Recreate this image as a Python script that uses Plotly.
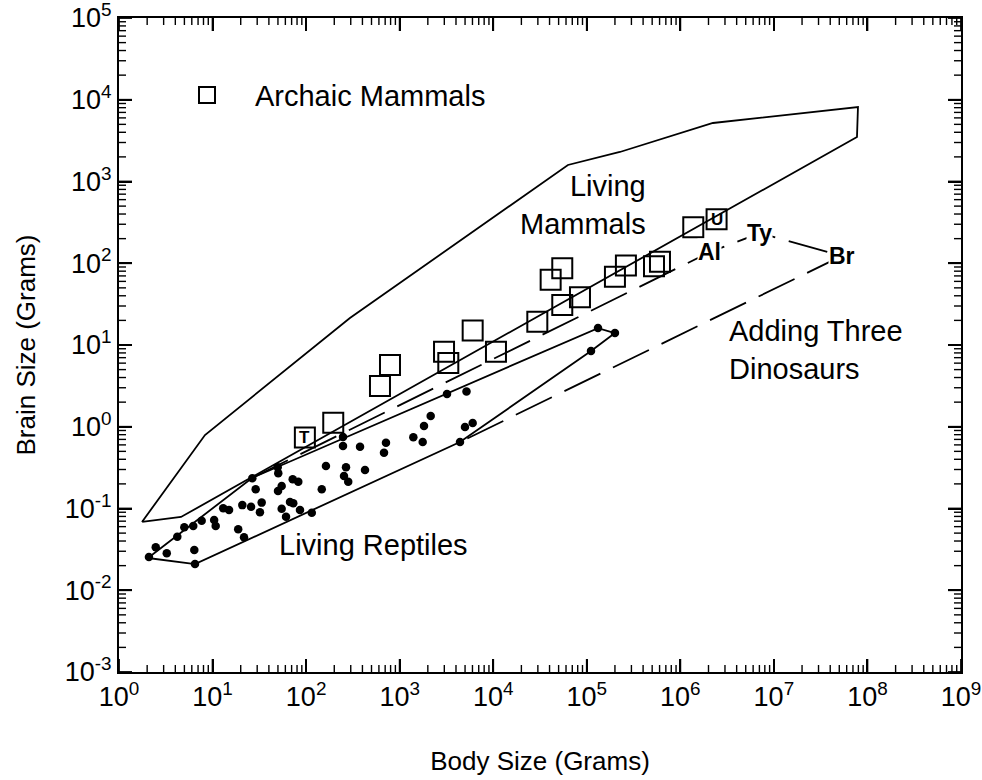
import math
import plotly.graph_objects as go

FONT = "Liberation Sans, Arial, sans-serif"

# ---------------- data ----------------
# Archaic mammals (open squares): body size (g), brain size (g)
archaic_body = [97, 195, 616, 788, 2980, 3310, 6030, 10700, 29600, 41100,
                54700, 54700, 84600, 200000, 262000, 523000, 606000,
                1375000, 2440000]
archaic_brain = [0.74, 1.12, 3.15, 5.69, 8.28, 6.02, 15.0, 8.28, 19.3, 63,
                 86.7, 30.8, 38.3, 68.4, 93.8, 91.8, 104.5, 275, 345]
archaic_tags = ["T", "U"]  # first and last square

# Living reptiles (filled dots)
reptile_body = [2.09, 2.47, 3.24, 6.38, 6.49, 4.20, 4.99, 6.22, 7.65, 10.4,
                10.8, 13.0, 15.0, 18.8, 21.7, 20.8, 25.8, 33.5, 32.1, 26.6,
                28.9, 49.7, 50.4, 54.8, 54.8, 50.1, 71.9, 82.5, 72.9, 86.0,
                61.0, 115, 147, 163, 248, 248, 267, 254, 282, 377,
                426, 714, 680, 1400, 1762, 1820, 2146, 3206, 5180, 4990,
                6030, 4413, 111000, 131800, 200000, 67.3]
reptile_brain = [0.0255, 0.0335, 0.0283, 0.0310, 0.0209, 0.0452, 0.0589, 0.0611, 0.0710, 0.0723,
                 0.0611, 0.1005, 0.0959, 0.0557, 0.0445, 0.110, 0.105, 0.118, 0.0898, 0.234,
                 0.172, 0.319, 0.270, 0.188, 0.0995, 0.164, 0.228, 0.213, 0.116, 0.0959,
                 0.0794, 0.0889, 0.172, 0.331, 0.750, 0.581, 0.319, 0.250, 0.213, 0.570,
                 0.296, 0.638, 0.482, 0.743, 0.650, 1.02, 1.35, 2.52, 2.70, 0.993,
                 1.11, 0.650, 8.45, 16.1, 14.0, 0.120]

# Living mammals envelope
mammal_env_body = [1.76, 8.3, 294, 62900, 226000, 2230000, 79200000, 77300000, 4.6, 1.76]
mammal_env_brain = [0.0684, 0.792, 21.4, 1592, 2296, 5196, 8150, 3500, 0.0787, 0.0684]

# Living reptiles envelope
reptile_env_body = [2.04, 26.4, 131800, 200000, 111000, 4413, 6.49, 2.04]
reptile_env_brain = [0.0248, 0.236, 16.1, 14.0, 8.45, 0.650, 0.0209, 0.0248]

# Three dinosaurs
dino_names = ["Al", "Ty", "Br"]
dino_body = [2.07e6, 7.1e6, 5.34e7]
dino_brain = [137, 234, 123]

# Envelope after adding the dinosaurs (dashed): reptile vertex -> Al -> Ty -> Br -> reptile vertex
ext_body = [26.4] + dino_body + [4413]
ext_brain = [0.236] + dino_brain + [0.650]

x_tick_exp = list(range(0, 10))
y_tick_exp = list(range(-3, 6))

# ---------------- figure ----------------
fig = go.Figure()

fig.add_trace(go.Scatter(x=mammal_env_body, y=mammal_env_brain, mode="lines",
                         line=dict(color="black", width=1.8), showlegend=False,
                         hoverinfo="skip"))
fig.add_trace(go.Scatter(x=reptile_env_body, y=reptile_env_brain, mode="lines",
                         line=dict(color="black", width=1.8), showlegend=False,
                         hoverinfo="skip"))
fig.add_trace(go.Scatter(x=ext_body, y=ext_brain, mode="lines",
                         line=dict(color="black", width=1.8, dash="40px,14px"),
                         showlegend=False, hoverinfo="skip"))
fig.add_trace(go.Scatter(x=reptile_body, y=reptile_brain, mode="markers",
                         marker=dict(symbol="circle", size=8.5, color="black"),
                         showlegend=False, name="Living Reptiles"))
fig.add_trace(go.Scatter(x=archaic_body, y=archaic_brain, mode="markers",
                         marker=dict(symbol="square-open", size=20, color="black",
                                     line=dict(width=2, color="black")),
                         name="Archaic Mammals", showlegend=True))

annotations = []
for n, bx, by in zip(dino_names, dino_body, dino_brain):
    annotations.append(dict(x=math.log10(bx), y=math.log10(by), xref="x", yref="y",
                            text="<b>%s</b>" % n, showarrow=False,
                            font=dict(family=FONT, size=23, color="black"),
                            bgcolor="white", borderpad=0))
for tag, idx in zip(archaic_tags, [0, len(archaic_body) - 1]):
    annotations.append(dict(x=math.log10(archaic_body[idx]), y=math.log10(archaic_brain[idx]),
                            xref="x", yref="y", text="<b>%s</b>" % tag, showarrow=False,
                            font=dict(family=FONT, size=17, color="black")))
annotations += [
    dict(x=0.6283, y=0.7148, xref="paper", yref="paper", text="Living<br>Mammals",
         xanchor="right", yanchor="middle", align="right", showarrow=False,
         font=dict(family=FONT, size=29, color="black")),
    dict(x=0.7221, y=0.4916, xref="paper", yref="paper", text="Adding Three<br>Dinosaurs",
         xanchor="left", yanchor="middle", align="left", showarrow=False,
         font=dict(family=FONT, size=29, color="black")),
    dict(x=0.3017, y=0.1942, xref="paper", yref="paper", text="Living Reptiles",
         xanchor="center", yanchor="middle", showarrow=False,
         font=dict(family=FONT, size=29, color="black")),
]

major_x = [10 ** e for e in x_tick_exp]
major_y = [10.0 ** e for e in y_tick_exp]
minor_x = [m * 10 ** k for k in range(0, 9) for m in range(2, 10)]
minor_y = [m * 10.0 ** k for k in range(-3, 5) for m in range(2, 10)]

# ---- inward tick marks on all four sides (axis decoration, from tick values) ----
X_RANGE = (0, 9)
Y_RANGE = (-3, 5)
PLOT_W = 982 - 119 - 21
PLOT_H = 780 - 18 - 108
shapes = []


def add_x_ticks(vals, length_px, width):
    h = length_px / PLOT_H
    for v in vals:
        p = (math.log10(v) - X_RANGE[0]) / (X_RANGE[1] - X_RANGE[0])
        for y0, y1 in ((0, h), (1, 1 - h)):
            shapes.append(dict(type="line", xref="paper", yref="paper",
                               x0=p, x1=p, y0=y0, y1=y1, layer="above",
                               line=dict(color="black", width=width)))


def add_y_ticks(vals, length_px, width):
    w = length_px / PLOT_W
    for v in vals:
        p = (math.log10(v) - Y_RANGE[0]) / (Y_RANGE[1] - Y_RANGE[0])
        for x0, x1 in ((0, w), (1, 1 - w)):
            shapes.append(dict(type="line", xref="paper", yref="paper",
                               x0=x0, x1=x1, y0=p, y1=p, layer="above",
                               line=dict(color="black", width=width)))


add_x_ticks(major_x, 13, 1.8)
add_x_ticks(minor_x, 7, 1.4)
add_y_ticks(major_y, 13, 1.8)
add_y_ticks(minor_y, 7, 1.4)

fig.update_layout(
    xaxis=dict(type="log", range=list(X_RANGE), tickmode="array", tickvals=major_x,
               ticktext=["10<sup>%d</sup>" % e for e in x_tick_exp],
               ticks="inside", ticklen=13, tickwidth=1.8, tickcolor="black",
               showline=True, linewidth=2, linecolor="black", mirror="allticks",
               showgrid=False, zeroline=False, automargin=False,
               ticklabeloverflow="allow",
               tickfont=dict(family=FONT, size=27, color="black"),
               title=dict(text="Body Size (Grams)", standoff=40,
                          font=dict(family=FONT, size=26, color="black"))),
    yaxis=dict(type="log", range=list(Y_RANGE), tickmode="array", tickvals=major_y,
               ticktext=["10<sup>%d</sup>" % e for e in y_tick_exp],
               ticks="inside", ticklen=13, tickwidth=1.8, tickcolor="black",
               showline=True, linewidth=2, linecolor="black", mirror="allticks",
               showgrid=False, zeroline=False, automargin=False,
               ticklabeloverflow="allow",
               tickfont=dict(family=FONT, size=27, color="black"),
               title=dict(text="Brain Size (Grams)", standoff=22,
                          font=dict(family=FONT, size=26, color="black"))),
    width=982, height=780,
    margin=dict(l=119, r=21, t=18, b=108),
    paper_bgcolor="white", plot_bgcolor="white",
    font=dict(family=FONT, color="black"),
    annotations=annotations,
    shapes=shapes,
    showlegend=True,
    legend=dict(x=0.0475, y=0.882, xanchor="left", yanchor="middle",
                xref="paper", yref="paper", bgcolor="rgba(0,0,0,0)", borderwidth=0,
                itemwidth=86, itemsizing="trace",
                font=dict(family=FONT, size=29, color="black")),
)

fig.write_html("out.html")
